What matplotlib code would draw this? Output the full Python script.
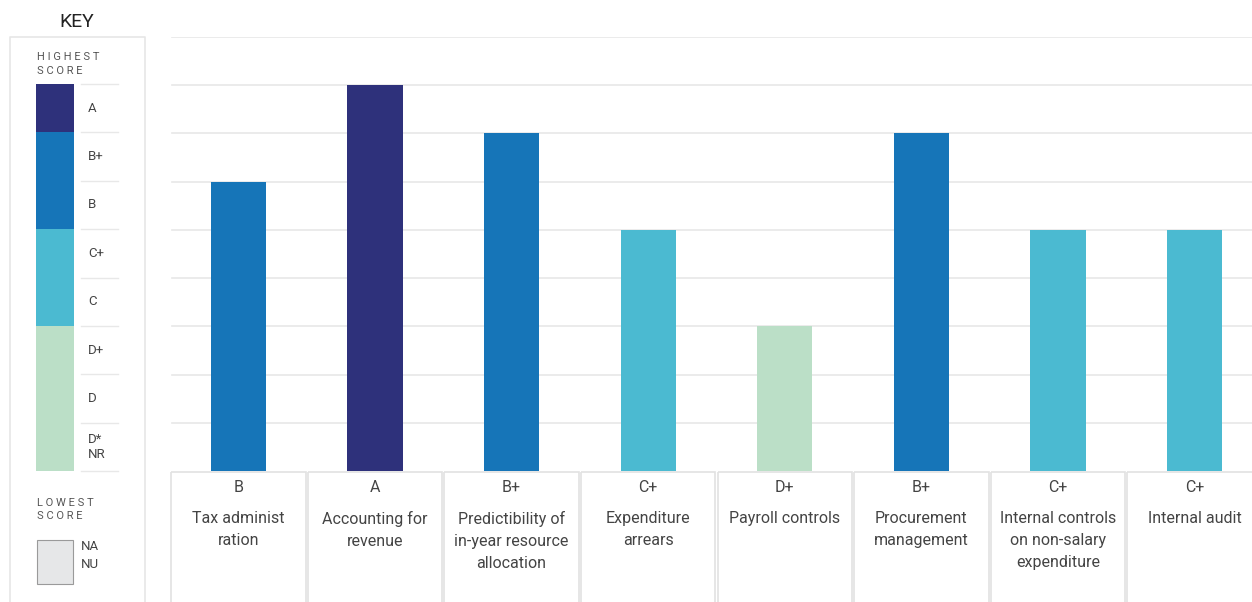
import matplotlib
matplotlib.use("Agg")
from matplotlib import pyplot as plt
from matplotlib.patches import Rectangle

plt.rcParams["font.family"] = ["Roboto", "DejaVu Sans"]

# data
indicators = [
    "Tax administ\nration",
    "Accounting for\nrevenue",
    "Predictibility of\nin-year resource\nallocation",
    "Expenditure\narrears",
    "Payroll controls",
    "Procurement\nmanagement",
    "Internal controls\non non-salary\nexpenditure",
    "Internal audit",
]
grades = ["B", "A", "B+", "C+", "D+", "B+", "C+", "C+"]

key_grades = ["A", "B+", "B", "C+", "C", "D+", "D", "D*\nNR"]
key_scores = [8, 7, 6, 5, 4, 3, 2, 1]
grade_score = {"A": 8, "B+": 7, "B": 6, "C+": 5, "C": 4, "D+": 3, "D": 2, "D*": 1}

A_COL = "#2e317b"
B_COL = "#1675b8"
C_COL = "#4bbad1"
D_COL = "#bbdfc7"
grade_color = {"A": A_COL, "B+": B_COL, "B": B_COL, "C+": C_COL, "C": C_COL,
               "D+": D_COL, "D": D_COL, "D*": D_COL}

TEXT = "#444444"
GRID = "#e8e8e8"

W, H = 1252, 602
fig = plt.figure(figsize=(W / 100, H / 100), dpi=100)

# main bar axes: baseline at y=471px, value 9 at y=37px
x0, x1 = 170, 1263
ax = fig.add_axes([x0 / W, (H - 471) / H, (x1 - x0) / W, 434 / H])
scores = [grade_score[g] for g in grades]
colors = [grade_color[g] for g in grades]
pos = list(range(len(indicators)))
ax.bar(pos, scores, width=0.405, color=colors, zorder=3)
ax.set_xlim(-0.5, len(indicators) - 0.5)
ax.set_ylim(0, 9)
for v in range(1, 10):
    ax.axhline(v, xmin=0.002, color=GRID, lw=1.2, zorder=1)
ax.axis("off")

# label cells under the bars (y in px below baseline)
lab = fig.add_axes([x0 / W, 0, (x1 - x0) / W, (H - 471) / H])
lab.set_xlim(-0.5, len(indicators) - 0.5)
lab.set_ylim(H - 471, 0)
lab.axis("off")
for i, (name, g) in enumerate(zip(indicators, grades)):
    lab.add_patch(Rectangle((i - 0.5 + 0.008, 1), 0.984, 200, fill=False,
                            edgecolor="#e2e2e2", lw=1.2, clip_on=False))
    lab.text(i, 17, g, ha="center", va="center", fontsize=11.5, color=TEXT)
    lab.text(i, 40, name, ha="center", va="top", fontsize=11.5, color=TEXT,
             linespacing=1.6)

# key panel in pixel coordinates
key = fig.add_axes([0, 0, 172 / W, 1])
key.set_xlim(0, 172)
key.set_ylim(H, 0)
key.axis("off")
key.text(77, 22, "KEY", ha="center", va="center", fontsize=14, color="#222222")
key.plot([10, 10, 145, 145], [H + 5, 37, 37, H + 5], color="#e6e6e6", lw=1.2)
key.text(37, 57, "H I G H E S T", va="center", fontsize=8, color="#555555")
key.text(37, 71, "S C O R E", va="center", fontsize=8, color="#555555")

row_top = 84
row_h = (471 - 84) / 8
for k, (g, s) in enumerate(zip(key_grades, key_scores)):
    y = row_top + k * row_h
    base = g.split("\n")[0]
    key.add_patch(Rectangle((36, y), 38, row_h, color=grade_color[base], lw=0))
    key.plot([81, 118], [y, y], color=GRID, lw=1.0)
    key.text(88, y + row_h / 2, g, va="center", fontsize=9.5, color=TEXT,
             linespacing=1.2)
key.plot([81, 118], [471, 471], color=GRID, lw=1.0)

key.text(37, 503, "L O W E S T", va="center", fontsize=8, color="#555555")
key.text(37, 516, "S C O R E", va="center", fontsize=8, color="#555555")
key.add_patch(Rectangle((37, 540), 36, 44, facecolor="#e6e7e8",
                        edgecolor="#9a9a9a", lw=0.8))
key.text(81, 547, "NA", va="center", fontsize=9.5, color=TEXT)
key.text(81, 565, "NU", va="center", fontsize=9.5, color=TEXT)

fig.savefig("out.png", dpi=100)
